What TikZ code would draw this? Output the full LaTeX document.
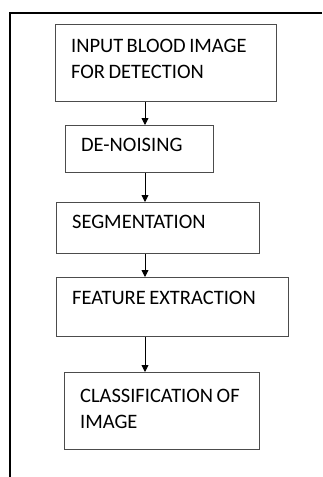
\documentclass[tikz,border=0pt]{standalone}
\usepackage{fontspec}
\setmainfont{Carlito}
\usetikzlibrary{arrows.meta}
\newcommand{\stagefont}{\fontsize{20.5}{26}\selectfont\spaceskip=0.17em plus 0.05em\relax}
% text of one stage: box height, text width, gap above the first line, text
\newcommand{\stagetext}[4]{\parbox[t][#1][t]{#2}{\raggedright\vspace*{#3}#4}}

\begin{document}
\begin{tikzpicture}[x=1pt,y=-1pt,
	stagebox/.style={rectangle,draw=black!70,line width=1.2pt,anchor=north west,inner xsep=15.5pt,inner ysep=0pt,font=\stagefont},
	flow/.style={line width=0.9pt,-{Triangle[length=7pt,width=7pt]}}]

	\useasboundingbox (0,0) rectangle (322,477);

	% page frame

	\draw[line width=1.6pt] (322,13) -- (10,13) -- (10,477);

	% stages

	\node[stagebox] (input) at (55,24) {\stagetext{77pt}{190pt}{15pt}{INPUT BLOOD IMAGE\\FOR DETECTION}};
	\node[stagebox] (denoise) at (65,125) {\stagetext{47pt}{117pt}{13pt}{DE-NOISING}};
	\node[stagebox] (segment) at (56,202) {\stagetext{51pt}{172pt}{13pt}{SEGMENTATION}};
	\node[stagebox] (feature) at (56,277) {\stagetext{59pt}{201pt}{14pt}{FEATURE EXTRACTION}};
	\node[stagebox] (classify) at (64,372) {\stagetext{77pt}{164pt}{17pt}{\mbox{CLASSIFICATION OF}\\IMAGE}};

	% arrows

	\coordinate (spine) at (145,0);
	\draw[flow] (input.south -| spine) -- (denoise.north -| spine);
	\draw[flow] (denoise.south -| spine) -- (segment.north -| spine);
	\draw[flow] (segment.south -| spine) -- (feature.north -| spine);
	\draw[flow] (feature.south -| spine) -- (classify.north -| spine);

\end{tikzpicture}
\end{document}
